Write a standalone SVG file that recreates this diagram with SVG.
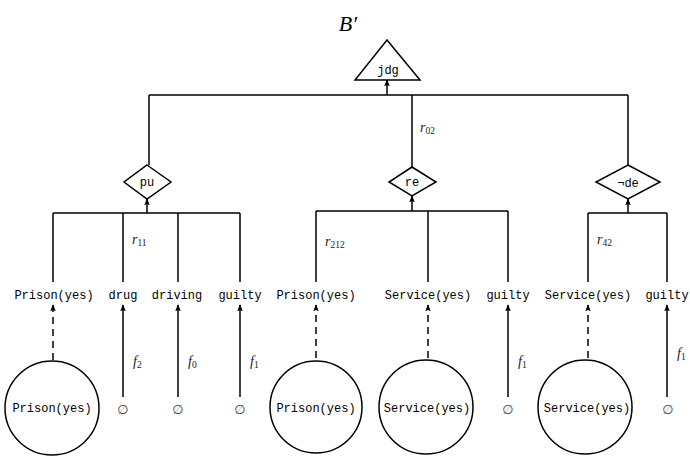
<svg xmlns="http://www.w3.org/2000/svg" width="690" height="457" viewBox="0 0 690 457">
<style>
.mono{font-family:"Liberation Mono","DejaVu Sans Mono",monospace;font-size:12px;fill:#000;text-anchor:middle}
.math{font-family:"Liberation Serif","DejaVu Serif",serif;font-style:italic;font-size:14px;fill:#222}
.sub{font-style:normal;font-size:9.5px}
.empty{font-family:"DejaVu Sans","Liberation Sans",sans-serif;font-size:13px;fill:#444;text-anchor:middle}
.shape{fill:#fff;stroke:#000;stroke-width:1.5}
.line{fill:none;stroke:#000;stroke-width:1.5}
.dash{fill:none;stroke:#000;stroke-width:1.5;stroke-dasharray:7,5}
</style>
<defs>
<marker id="ah" viewBox="0 0 10 10" refX="9" refY="5" markerWidth="7" markerHeight="7" markerUnits="userSpaceOnUse" orient="auto">
<path d="M0,1 L10,5 L0,9 L2,5 z" fill="#000"/>
</marker>
</defs>
<text x="348" y="31" font-family="Liberation Serif, DejaVu Serif, serif" font-style="italic" font-size="22" text-anchor="middle">B′</text>
<g id="connectors">
<path class="line" d="M149,95 H628 M149,95 V165 M412,95 V167 M628,95 V165"/>
<path class="line" marker-end="url(#ah)" d="M387,95 V80"/>
<path class="line" d="M53,213 H240 M53,213 V282 M123,213 V282 M178,213 V282 M240,213 V282"/>
<path class="line" marker-end="url(#ah)" d="M147,213 V199"/>
<path class="line" d="M316,211 H508 M316,211 V282 M428,211 V282 M508,211 V282"/>
<path class="line" marker-end="url(#ah)" d="M412,211 V196"/>
<path class="line" d="M588,213 H667 M588,213 V282 M667,213 V282"/>
<path class="line" marker-end="url(#ah)" d="M628,213 V199"/>
<path class="dash" marker-end="url(#ah)" d="M53,360 V305"/>
<path class="dash" marker-end="url(#ah)" d="M316,358 V305"/>
<path class="dash" marker-end="url(#ah)" d="M428,358 V305"/>
<path class="dash" marker-end="url(#ah)" d="M588,358 V305"/>
<path class="line" marker-end="url(#ah)" d="M123,397 V305"/>
<path class="line" marker-end="url(#ah)" d="M178,397 V305"/>
<path class="line" marker-end="url(#ah)" d="M240,397 V305"/>
<path class="line" marker-end="url(#ah)" d="M508,397 V305"/>
<path class="line" marker-end="url(#ah)" d="M667,397 V305"/>
<text class="math" x="420" y="132">r<tspan class="sub" dy="2">02</tspan></text>
<text class="math" x="132" y="244">r<tspan class="sub" dy="2">11</tspan></text>
<text class="math" x="325" y="246">r<tspan class="sub" dy="2">212</tspan></text>
<text class="math" x="597" y="244">r<tspan class="sub" dy="2">42</tspan></text>
<text class="math" x="133" y="366">f<tspan class="sub" dy="2">2</tspan></text>
<text class="math" x="188" y="366">f<tspan class="sub" dy="2">0</tspan></text>
<text class="math" x="250" y="366">f<tspan class="sub" dy="2">1</tspan></text>
<text class="math" x="518" y="366">f<tspan class="sub" dy="2">1</tspan></text>
<text class="math" x="677" y="358">f<tspan class="sub" dy="2">1</tspan></text>
</g>
<g id="jdg"><polygon class="shape" points="387,40 355,80 420,80"/><text class="mono" x="388" y="74">jdg</text></g>
<g id="pu"><polygon class="shape" points="147,165 171,182 147,199 124,182"/><text class="mono" x="147" y="186">pu</text></g>
<g id="re"><polygon class="shape" points="412,167 436,182 412,196 389,182"/><text class="mono" x="412" y="186">re</text></g>
<g id="de"><polygon class="shape" points="628,165 660,182 628,199 596,182"/><text class="mono" x="628" y="187">¬de</text></g>
<g id="lbl-prison1"><text class="mono" x="54" y="299">Prison(yes)</text></g>
<g id="lbl-drug"><text class="mono" x="123" y="299">drug</text></g>
<g id="lbl-driving"><text class="mono" x="177" y="299">driving</text></g>
<g id="lbl-guilty1"><text class="mono" x="240" y="299">guilty</text></g>
<g id="lbl-prison2"><text class="mono" x="316" y="299">Prison(yes)</text></g>
<g id="lbl-service2"><text class="mono" x="428" y="299">Service(yes)</text></g>
<g id="lbl-guilty2"><text class="mono" x="508" y="299">guilty</text></g>
<g id="lbl-service3"><text class="mono" x="588" y="299">Service(yes)</text></g>
<g id="lbl-guilty3"><text class="mono" x="667" y="299">guilty</text></g>
<g id="c1"><circle class="shape" cx="52" cy="408" r="47"/><text class="mono" x="52" y="412">Prison(yes)</text></g>
<g id="c2"><circle class="shape" cx="316" cy="407" r="46"/><text class="mono" x="316" y="412">Prison(yes)</text></g>
<g id="c3"><circle class="shape" cx="426" cy="407" r="47"/><text class="mono" x="427" y="412">Service(yes)</text></g>
<g id="c4"><circle class="shape" cx="585" cy="407" r="47"/><text class="mono" x="587" y="412">Service(yes)</text></g>
<g id="e1"><text class="empty" x="123" y="414">∅</text></g>
<g id="e2"><text class="empty" x="178" y="414">∅</text></g>
<g id="e3"><text class="empty" x="240" y="414">∅</text></g>
<g id="e4"><text class="empty" x="508" y="414">∅</text></g>
<g id="e5"><text class="empty" x="668" y="414">∅</text></g>
</svg>
